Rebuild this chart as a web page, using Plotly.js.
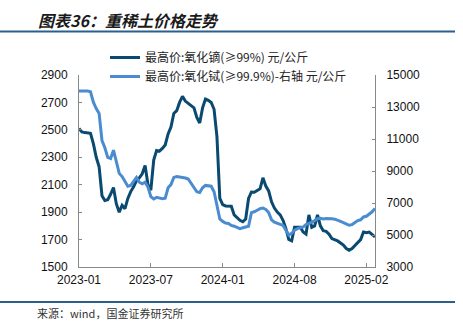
<!DOCTYPE html>
<html>
<head>
<meta charset="utf-8">
<script src="https://cdn.plot.ly/plotly-3.0.1.min.js"></script>
<style>html,body{margin:0;padding:0;background:#fff;}#chart{width:463px;height:322px;}</style>
</head>
<body>
<div id="chart"></div>
<script>
// x tick labels (positions are every 25 samples)
var tickLabels = ["2023-01", "2023-07", "2024-01", "2024-08", "2025-02"];

// 最高价:氧化镝(≥99%) 元/公斤 (left axis)
var dyPrice = [
  2510, 2485, 2480, 2480, 2475, 2400, 2300, 2230, 2020, 1985,
  1990, 2030, 2080, 1960, 1900, 1950, 1925, 2000, 2050, 2085,
  2130, 2150, 2180, 2240, 2100, 2060, 2280, 2350, 2345, 2365,
  2390, 2470, 2520, 2620, 2640, 2700, 2745, 2710, 2695, 2680,
  2660, 2590, 2550, 2660, 2725, 2715, 2700, 2650, 2450, 2000,
  1955, 1945, 1945, 1943, 1880, 1860, 1840, 1830, 1850, 2000,
  2047, 2045, 2060, 2070, 2150, 2090, 2055, 1975, 1930, 1900,
  1880, 1840, 1780, 1700, 1690, 1790, 1790, 1790, 1755, 1740,
  1880, 1790, 1800, 1880, 1800, 1765, 1760, 1740, 1707, 1700,
  1690, 1675, 1660, 1635, 1622, 1635, 1658, 1680, 1700, 1755,
  1750, 1755, 1735, 1719
];

// 最高价:氧化铽(≥99.9%)-右轴 元/公斤 (right axis)
var tbPrice = [
  14000, 14000, 14000, 14000, 13950, 13300, 12900, 12600, 10900, 10450,
  9850, 9775, 10300, 9600, 8850, 8650, 8300, 8050, 8100, 8350,
  8600, 8300, 8200, 8300, 8000, 7400, 7250, 7350, 7300, 7270,
  7300, 7950, 8150, 8600, 8650, 8625, 8600, 8560, 8500, 8220,
  8000, 7700, 7650, 7950, 8100, 8080, 8050, 7700, 6900, 6000,
  5850, 5750, 5720, 5600, 5550, 5450, 5400, 5450, 5500, 5550,
  6400, 6450, 6550, 6650, 6690, 6600, 6400, 5950, 5800, 5720,
  5650, 5600, 5300, 5000, 5100, 5300, 5400, 5450, 5500, 5650,
  5710, 5800, 5900, 6020, 6050, 6000, 6030, 6040, 6020, 5990,
  5900, 5850, 5780, 5700, 5610, 5650, 5800, 5900, 5950, 6130,
  6170, 6300, 6450, 6650
];

var idx = dyPrice.map(function (_, i) { return i; });
var tickPos = tickLabels.map(function (_, i) { return i * 25; });

var traces = [
  {x: idx, y: dyPrice, type: 'scatter', mode: 'lines', name: '最高价:氧化镝(≥99%) 元/公斤',
   line: {color: '#0a4a70', width: 3}, yaxis: 'y', legend: 'legend'},
  {x: idx, y: tbPrice, type: 'scatter', mode: 'lines', name: '最高价:氧化铽(≥99.9%)-右轴 元/公斤',
   line: {color: '#4b8bcf', width: 3}, yaxis: 'y2', legend: 'legend2'}
];

// pixel helpers for decorations
var L = 79, T = 75, W = 296, H = 192;
function px(x) { return (x - L) / W; }
function py(y) { return (T + H - y) / H; }

var tickFont = {family: 'Liberation Sans, Arial, sans-serif', size: 12, color: '#111'};
var legFont = {family: 'Noto Sans CJK SC, sans-serif', size: 12, color: '#222'};

var layout = {
  width: 463, height: 322,
  margin: {l: L, r: 463 - L - W, t: T, b: 322 - T - H},
  paper_bgcolor: '#fff', plot_bgcolor: '#fff',
  showlegend: true,
  legend: {x: px(105), y: py(43), xanchor: 'left', yanchor: 'top', bgcolor: 'rgba(0,0,0,0)',
           font: legFont, itemwidth: 30},
  legend2: {x: px(105), y: py(62), xanchor: 'left', yanchor: 'top', bgcolor: 'rgba(0,0,0,0)',
            font: legFont, itemwidth: 30},
  xaxis: {range: [0, idx.length - 1], tickvals: tickPos, ticktext: tickLabels,
          showline: true, linecolor: '#888', linewidth: 1, showgrid: false, zeroline: false,
          ticks: 'inside', ticklen: 4, tickcolor: '#888', tickfont: tickFont, ticklabelstandoff: 2},
  yaxis: {range: [1500, 2900], tick0: 1500, dtick: 200, tickformat: 'd', showline: true,
          linecolor: '#888', linewidth: 1, showgrid: false, zeroline: false, ticks: 'inside',
          ticklen: 3, tickcolor: '#888', tickfont: tickFont, ticklabelstandoff: 8},
  yaxis2: {range: [3000, 15000], tick0: 3000, dtick: 2000, tickformat: 'd', overlaying: 'y',
           side: 'right', showline: true, linecolor: '#888', linewidth: 1, showgrid: false,
           zeroline: false, ticks: 'inside', ticklen: 3, tickcolor: '#888', tickfont: tickFont,
           ticklabelstandoff: 8},
  shapes: [
    {type: 'line', xref: 'paper', yref: 'paper', x0: px(0), x1: px(455), y0: py(31.5), y1: py(31.5),
     line: {color: '#2b5f8c', width: 2}},
    {type: 'line', xref: 'paper', yref: 'paper', x0: px(0), x1: px(455), y0: py(302), y1: py(302),
     line: {color: '#2b5f8c', width: 2}}
  ],
  annotations: [
    {text: '<b><i>图表36：重稀土价格走势</i></b>', xref: 'paper', yref: 'paper', x: px(36), y: py(20),
     xanchor: 'left', yanchor: 'middle', showarrow: false,
     font: {family: 'Noto Sans CJK SC, sans-serif', size: 16, color: '#1a1a1a'}},
    {text: '来源：wind，国金证券研究所', xref: 'paper', yref: 'paper', x: px(35), y: py(303),
     xanchor: 'left', yanchor: 'top', showarrow: false,
     font: {family: 'Noto Sans CJK SC, sans-serif', size: 11, color: '#333'}}
  ]
};

Plotly.newPlot('chart', traces, layout, {displayModeBar: false, staticPlot: true});
</script>
</body>
</html>
